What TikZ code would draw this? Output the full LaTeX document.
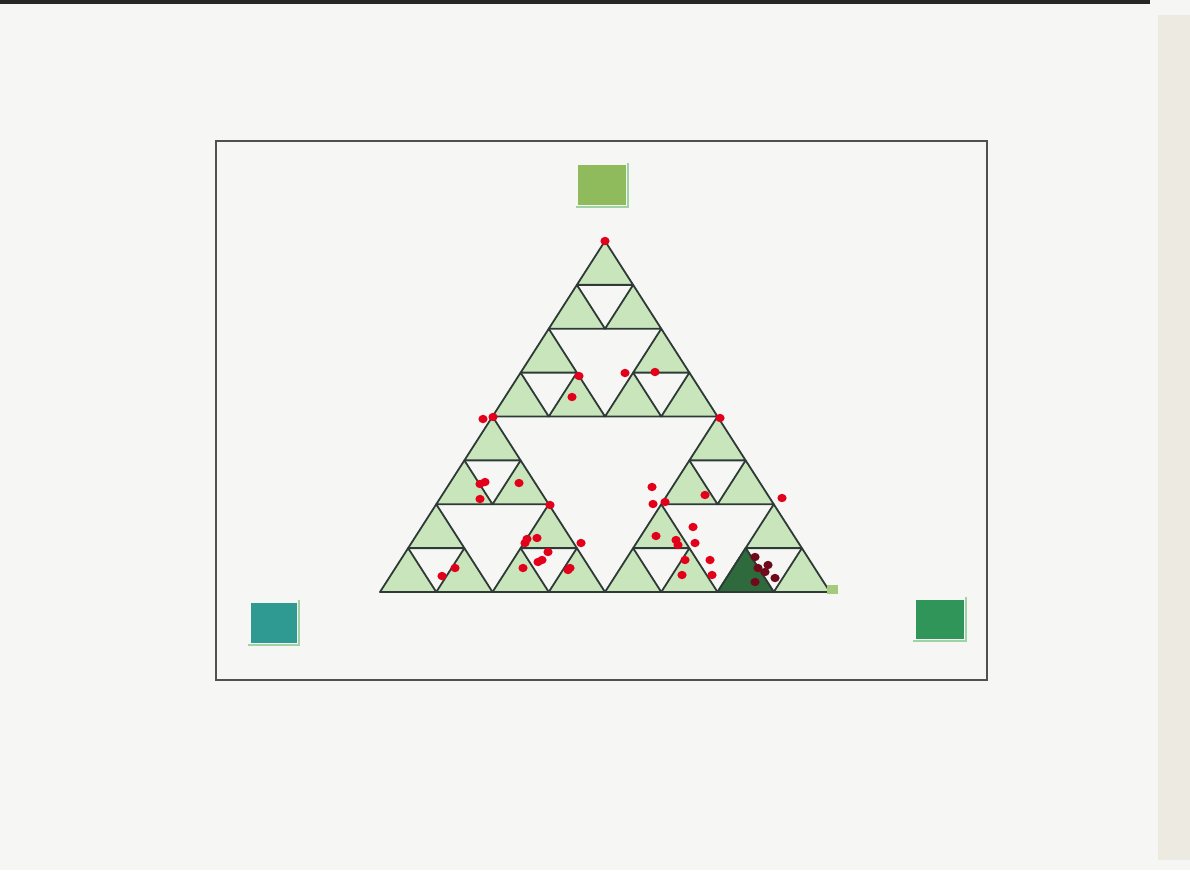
\documentclass[tikz,border=0pt]{standalone}
\definecolor{paper}{HTML}{F6F6F5}
\definecolor{edge}{HTML}{ECEAE1}
\definecolor{frameline}{HTML}{505050}
\definecolor{trifill}{HTML}{C9E5BC}
\definecolor{tridark}{HTML}{2F6A3D}
\definecolor{triline}{HTML}{2E3A36}
\definecolor{olive}{HTML}{8FBB5C}
\definecolor{teal}{HTML}{2F9A92}
\definecolor{jade}{HTML}{2F9559}
\definecolor{shade}{HTML}{9FD3A6}
\definecolor{dotred}{HTML}{E3001B}
\definecolor{dotdark}{HTML}{6E0A1A}
\begin{document}
\begin{tikzpicture}[x=1pt,y=-1pt,
  tri/.style={fill=trifill,draw=triline,line width=1.8pt,line join=round},
  dot/.style={fill=dotred},
  shadow/.style={draw=shade,line width=1.6pt}]
% paper
\fill[paper] (0,0) rectangle (1190,870);
\useasboundingbox (0,0) rectangle (1190,870);
\fill[edge] (1158,15) rectangle (1190,860);
\fill[black!85] (0,0) rectangle (1150,4);
% frame
\draw[frameline,line width=1.6pt] (216,141) rectangle (987,680);
% Sierpinski triangle, row/position of the filled cells
\foreach \r/\k in {0/0, 1/0,1/1, 2/0,2/2, 3/0,3/1,3/2,3/3, 4/0,4/4,
  5/0,5/1,5/4,5/5, 6/0,6/2,6/4,6/6, 7/0,7/1,7/2,7/3,7/4,7/5,7/6,7/7}
  \draw[tri] ({605+(\k-\r/2)*56.25},{241+\r*43.875})
    -- ++(28.125,43.875) -- ++(-56.25,0) -- cycle;
\draw[tri,fill=tridark] ({605+(6-3.5)*56.25},{241+7*43.875})
  -- ++(28.125,43.875) -- ++(-56.25,0) -- cycle;
\fill[olive!80] (827,585) rectangle (838,594);
% corner squares
\draw[shadow] (576,207) -- (628,207) -- (628,163);
\fill[olive] (578,165) rectangle (626,205);
\draw[shadow] (248,645) -- (299,645) -- (299,600);
\fill[teal] (251,603) rectangle (297,643);
\draw[shadow] (913,641) -- (966,641) -- (966,597);
\fill[jade] (916,600) rectangle (964,639);
% points of the chaos game
\foreach \x/\y in {605/241, 579/376, 625/373, 655/372, 572/397, 483/419,
  493/417, 720/418, 480/484, 485/482, 519/483, 480/499, 550/505, 652/487,
  653/504, 665/502, 705/495, 782/498, 693/527, 656/536, 676/540, 678/545,
  695/543, 525/543, 527/539, 537/538, 548/552, 581/543, 538/562, 542/560,
  523/568, 570/568, 568/570, 455/568, 442/576, 685/560, 710/560, 682/575,
  712/575}
  \fill[dot] (\x,\y) ellipse (4.6 and 4.2);
\foreach \x/\y in {755/557, 758/568, 768/565, 775/578, 755/582, 765/572}
  \fill[dotdark] (\x,\y) ellipse (4.6 and 4.2);
\end{tikzpicture}
\end{document}
